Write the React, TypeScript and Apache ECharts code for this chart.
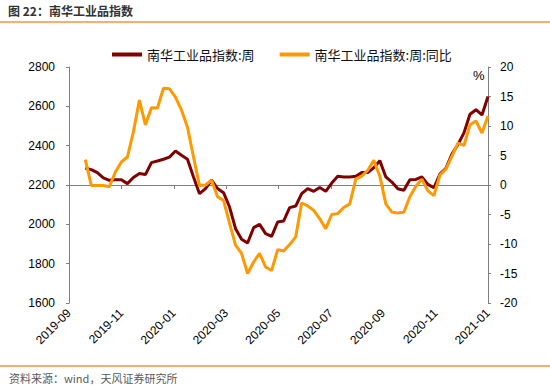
import React, { useEffect, useRef } from 'react';
import * as echarts from 'echarts';

const seriesNames = ['南华工业品指数:周', '南华工业品指数:周:同比'];

const xTickLabels = ['2019-09', '2019-11', '2020-01', '2020-03', '2020-05', '2020-07', '2020-09', '2020-11', '2021-01'];

const dates = [
  '2019-09-20', '2019-09-27', '2019-10-04', '2019-10-11', '2019-10-18', '2019-10-25',
  '2019-11-01', '2019-11-08', '2019-11-15', '2019-11-22', '2019-11-29',
  '2019-12-06', '2019-12-13', '2019-12-20', '2019-12-27',
  '2020-01-03', '2020-01-10', '2020-01-17', '2020-01-24', '2020-01-31',
  '2020-02-07', '2020-02-14', '2020-02-21', '2020-02-28',
  '2020-03-06', '2020-03-13', '2020-03-20', '2020-03-27',
  '2020-04-03', '2020-04-10', '2020-04-17', '2020-04-24',
  '2020-05-01', '2020-05-08', '2020-05-15', '2020-05-22', '2020-05-29',
  '2020-06-05', '2020-06-12', '2020-06-19', '2020-06-26',
  '2020-07-03', '2020-07-10', '2020-07-17', '2020-07-24', '2020-07-31',
  '2020-08-07', '2020-08-14', '2020-08-21', '2020-08-28',
  '2020-09-04', '2020-09-11', '2020-09-18', '2020-09-25',
  '2020-10-02', '2020-10-09', '2020-10-16', '2020-10-23', '2020-10-30',
  '2020-11-06', '2020-11-13', '2020-11-20', '2020-11-27',
  '2020-12-04', '2020-12-11', '2020-12-18', '2020-12-25', '2021-01-01',
];

const indexValues = [
  2286, 2278, 2263, 2236, 2224, 2227,
  2227, 2207, 2238, 2258, 2253,
  2314, 2322, 2331, 2342,
  2373, 2351, 2331, 2241, 2156,
  2182, 2225, 2182, 2161,
  2088, 1978, 1924, 1905,
  1983, 2000, 1953, 1939,
  2012, 2017, 2085, 2093, 2156,
  2182, 2168, 2187, 2168,
  2210, 2244, 2241, 2241, 2244,
  2263, 2263, 2288, 2324,
  2241, 2215, 2181, 2173,
  2227, 2228, 2241, 2203, 2186,
  2256, 2285, 2357, 2406,
  2465, 2560, 2583, 2556, 2650,
];

const yoyValues = [
  4.3, -0.1, -0.1, -0.1, -0.3, 2.2,
  3.9, 4.75, 9.0, 14.4, 10.2,
  13.1, 13.05, 16.4, 16.3,
  14.9, 12.7, 9.8, 4.75, -0.1,
  0, 0.8, -2.0, -2.6,
  -6.5, -10.2, -11.6, -15.0,
  -13.05, -11.6, -13.9, -14.5,
  -10.95, -11.2, -10.1, -8.8, -3.05,
  -3.55, -4.3, -5.7, -7.4,
  -5.0, -4.85, -3.8, -3.2, 1.0,
  1.5, 2.5, 4.2, 1.5,
  -3.2, -4.6, -4.75, -4.6,
  -2.0, -0.2, 1.0, -1.0, -1.8,
  1.7, 2.7, 4.9, 7.1,
  6.7, 10.2, 10.85, 8.8, 11.7,
];

const START = Date.UTC(2019, 8, 1);
const DAY = 86400000;
const toDay = (s: string) => {
  const [y, m, d] = s.split('-').map(Number);
  return (Date.UTC(y, m - 1, d) - START) / DAY;
};
const X_INTERVAL = 61;

const FONT = '"Liberation Sans", "Noto Sans CJK SC", sans-serif';
const CJK = '"Noto Sans CJK SC", "Liberation Sans", sans-serif';

export default function App() {
  const ref = useRef<HTMLDivElement>(null);

  useEffect(() => {
    document.body.style.margin = '0';
    if (!ref.current) return;
    const chart = echarts.init(ref.current, null, { renderer: 'svg' });
    const xs = dates.map(toDay);
    chart.setOption({
      animation: false,
      backgroundColor: '#fff',
      textStyle: { fontFamily: FONT },
      graphic: [
        {
          type: 'text', left: 8, top: 4,
          style: { text: '图 22：南华工业品指数', font: `bold 12px ${CJK}`, fill: '#333' },
        },
        { type: 'rect', left: 0, top: 21, shape: { width: 550, height: 2 }, style: { fill: '#F6AE72' } },
        { type: 'rect', left: 0, top: 365, shape: { width: 550, height: 2 }, style: { fill: '#F6AE72' } },
        {
          type: 'text', left: 9, top: 372,
          style: { text: '资料来源：wind，天风证券研究所', font: `11px ${CJK}`, fill: '#595959' },
        },
        {
          type: 'text', left: 473, top: 69,
          style: { text: '%', font: `13px ${FONT}`, fill: '#000' },
        },
      ],
      legend: {
        left: 107, top: 43,
        itemWidth: 30, itemHeight: 4, itemGap: 25,
        icon: 'rect',
        textStyle: { fontSize: 13, color: '#111', fontFamily: CJK },
        data: seriesNames,
      },
      grid: { left: 69, right: 62, top: 67, bottom: 85, containLabel: false },
      xAxis: {
        type: 'value', min: 0, max: 488, interval: X_INTERVAL,
        splitLine: { show: false },
        axisLine: { lineStyle: { color: '#7f7f7f', width: 1 } },
        axisTick: { show: true, length: 4, lineStyle: { color: '#7f7f7f' } },
        axisLabel: {
          rotate: 45, margin: 8, fontSize: 12, color: '#000',
          showMinLabel: true, showMaxLabel: true,
          formatter: (v: number) => xTickLabels[Math.round(v / X_INTERVAL)] ?? '',
        },
      },
      yAxis: [
        {
          type: 'value', min: 1600, max: 2800, interval: 200, position: 'left',
          splitLine: { show: false },
          axisLine: { show: true, lineStyle: { color: '#7f7f7f' } },
          axisTick: { show: true, length: 3, lineStyle: { color: '#7f7f7f' } },
          axisLabel: { margin: 14, fontSize: 12, color: '#000', formatter: (v: number) => String(v) },
        },
        {
          type: 'value', min: -20, max: 20, interval: 5, position: 'right',
          splitLine: { show: false },
          axisLine: { show: true, lineStyle: { color: '#7f7f7f' } },
          axisTick: { show: true, length: 3, lineStyle: { color: '#7f7f7f' } },
          axisLabel: { margin: 12, fontSize: 12, color: '#000', formatter: (v: number) => String(v) },
        },
      ],
      series: [
        {
          name: seriesNames[0], type: 'line', yAxisIndex: 0, symbol: 'none',
          color: '#800000',
          lineStyle: { width: 3, color: '#800000' },
          data: xs.map((x, i) => [x, indexValues[i]]),
        },
        {
          name: seriesNames[1], type: 'line', yAxisIndex: 1, symbol: 'none',
          color: '#FF9900',
          lineStyle: { width: 3, color: '#FF9900' },
          data: xs.map((x, i) => [x, yoyValues[i]]),
        },
      ],
    });
    return () => chart.dispose();
  }, []);

  return <div ref={ref} style={{ width: 550, height: 388 }} />;
}
